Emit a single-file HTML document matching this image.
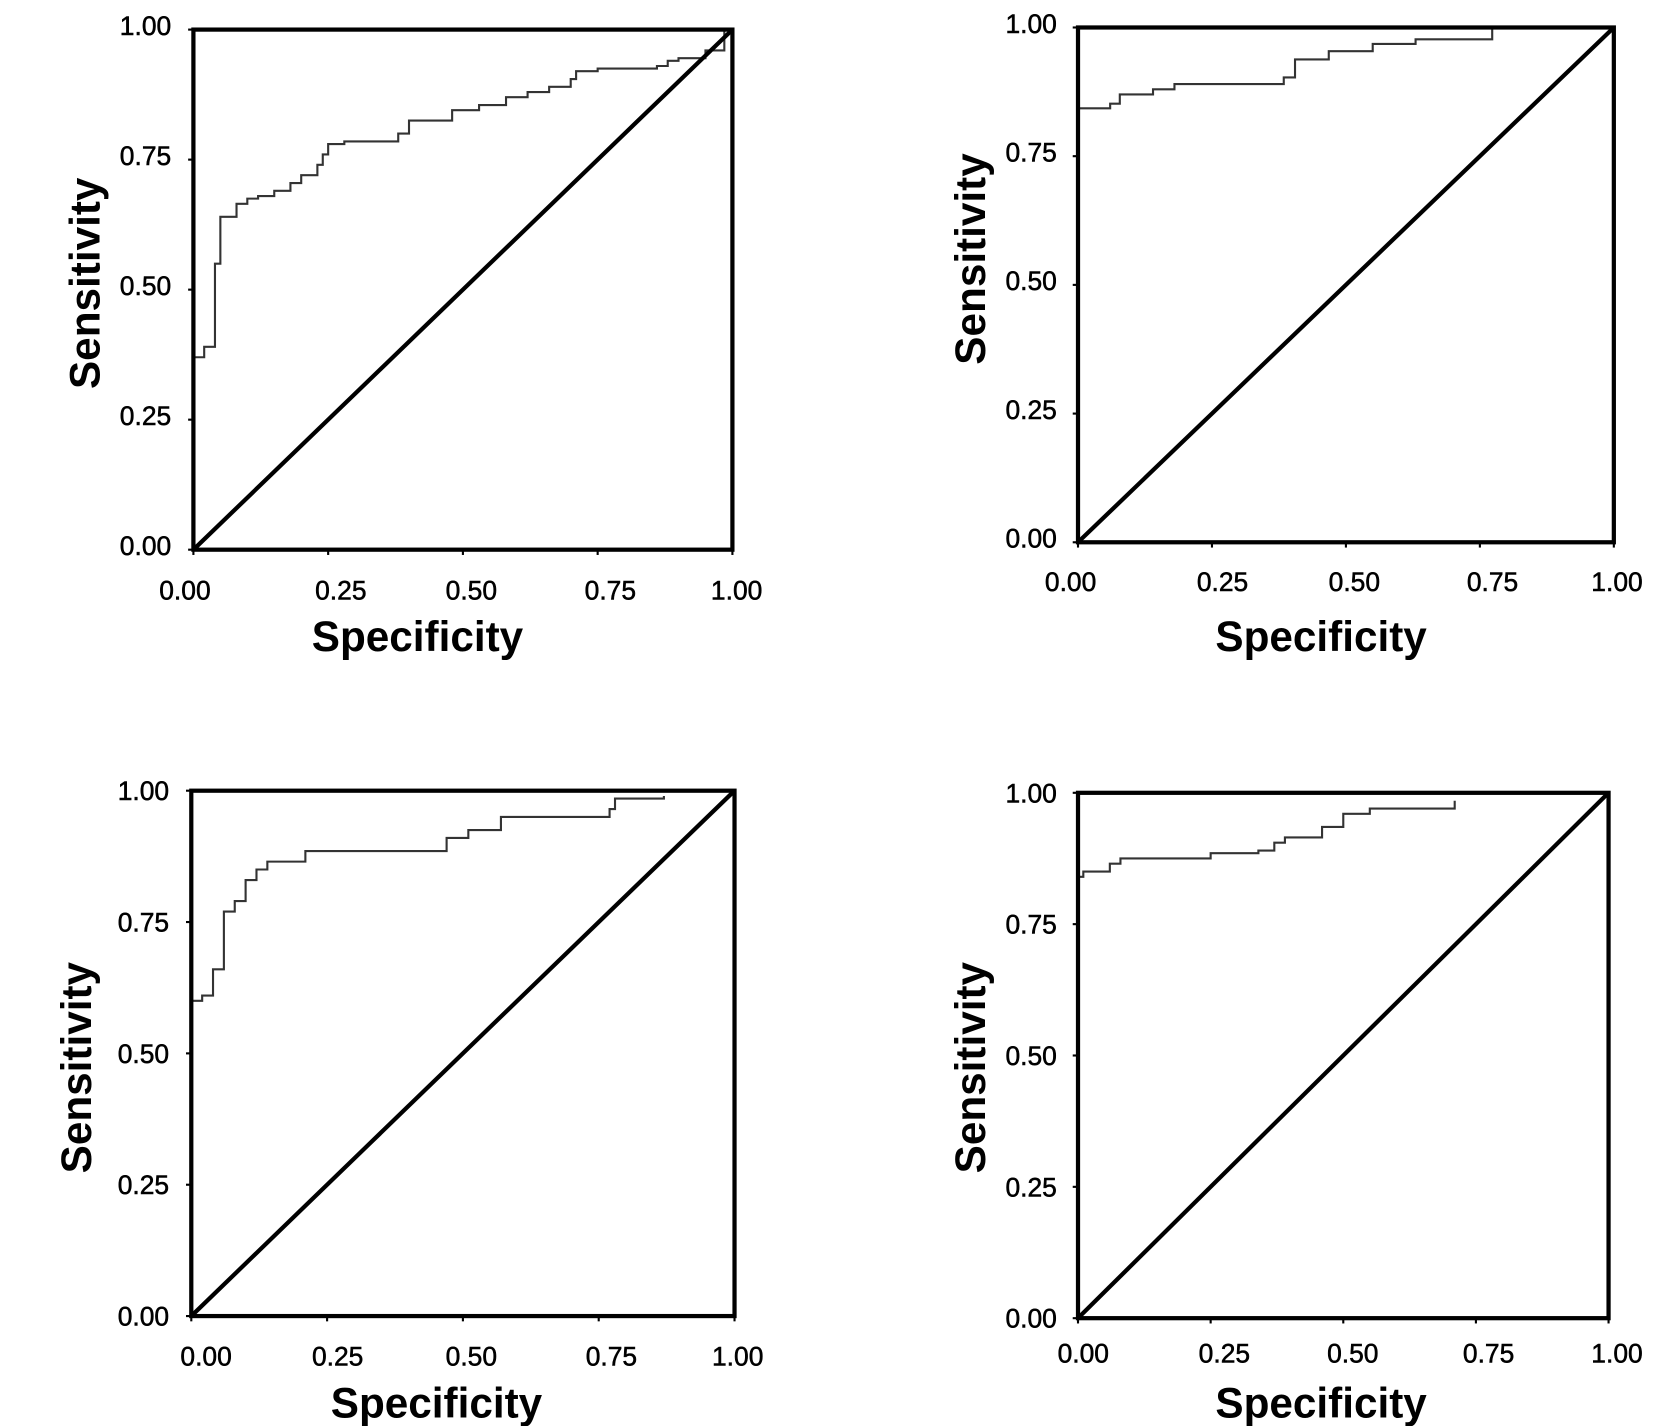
<!DOCTYPE html>
<html><head><meta charset="utf-8"><style>
html,body{margin:0;padding:0;background:#fff}
svg{display:block}
text{font-family:"Liberation Sans",Arial,sans-serif;fill:#000}
.tick{font-size:25px;stroke:#000;stroke-width:0.5}
.title{font-size:40px;font-weight:bold}
</style></head><body>
<svg id="chart" width="1654" height="1426" viewBox="0 0 1565 1349" preserveAspectRatio="none" xmlns="http://www.w3.org/2000/svg"></svg>
<script>
const tickLabels = ["0.00","0.25","0.50","0.75","1.00"];
const tickValues = [0,0.25,0.5,0.75,1];
const p1x = [0,0.02,0.04,0.05,0.08,0.10,0.12,0.15,0.18,0.20,0.23,0.24,0.25,0.28,0.38,0.40,0.48,0.53,0.58,0.62,0.66,0.70,0.71,0.75,0.86,0.88,0.90,0.95,0.985];
const p1y = [0.37,0.39,0.55,0.64,0.665,0.675,0.68,0.69,0.705,0.72,0.74,0.76,0.78,0.785,0.80,0.825,0.845,0.855,0.87,0.88,0.89,0.905,0.92,0.925,0.93,0.94,0.945,0.96,1.0];
const p2x = [0,0.06,0.078,0.14,0.18,0.384,0.405,0.468,0.55,0.63,0.773];
const p2y = [0.843,0.852,0.87,0.88,0.89,0.903,0.938,0.954,0.968,0.977,1.0];
const p3x = [0,0.02,0.04,0.06,0.08,0.10,0.12,0.14,0.21,0.47,0.51,0.57,0.77,0.78,0.87];
const p3y = [0.60,0.61,0.66,0.77,0.79,0.83,0.85,0.865,0.885,0.91,0.925,0.95,0.965,0.985,0.99];
const p4x = [0,0.01,0.06,0.08,0.25,0.34,0.37,0.39,0.46,0.50,0.55,0.71];
const p4y = [0.84,0.85,0.865,0.875,0.885,0.89,0.905,0.915,0.935,0.96,0.97,0.985];

const panels = [
 {name:"top-left",L:183,R:693,T:28,B:520,xs:p1x,ys:p1y,ylabX:162,xlabY:567,ytOff:-4,xtOff:[-8,12,8,12,4],yt:80,ytc:268,xt:395,xty:616},
 {name:"top-right",L:1020,R:1527,T:26,B:513,xs:p2x,ys:p2y,ylabX:1000,xlabY:559,ytOff:-4,xtOff:[-7,10,8,12,3],yt:918,ytc:245,xt:1250,xty:616},
 {name:"bottom-left",L:181,R:695,T:748,B:1245,xs:p3x,ys:p3y,ylabX:160,xlabY:1292,ytOff:0,xtOff:[14,10,8,12,3],yt:72,ytc:1010,xt:413,xty:1341},
 {name:"bottom-right",L:1020,R:1522,T:750,B:1247,xs:p4x,ys:p4y,ylabX:1000,xlabY:1289,ytOff:0,xtOff:[5,13,9,12,8],yt:918,ytc:1010,xt:1250,xty:1341}
];
const svg = document.getElementById('chart');
const NS = "http://www.w3.org/2000/svg";
function mk(tag, attrs, parent){const e=document.createElementNS(NS,tag);for(const k in attrs)e.setAttribute(k,attrs[k]);parent.appendChild(e);return e;}
panels.forEach(p=>{
  const g = mk('g',{},svg);
  
  
  const sx = v => p.L + v*(p.R-p.L);
  const sy = v => p.B - v*(p.B-p.T);
  let d = 'M'+sx(p.xs[0])+','+sy(p.ys[0]);
  for(let i=1;i<p.xs.length;i++){ d += ' H'+sx(p.xs[i])+' V'+sy(p.ys[i]); }
  const c = mk('path',{d:d,fill:'none',stroke:'#333','stroke-width':2},g);
  
  
  const diag = mk('line',{x1:sx(0),y1:sy(0),x2:sx(1),y2:sy(1),stroke:'#000','stroke-width':4},g);
  
  
  const box = mk('rect',{x:p.L,y:p.T,width:p.R-p.L,height:p.B-p.T,fill:'none',stroke:'#000','stroke-width':4},g);
  
  
  tickValues.forEach((v,i)=>{
    const tk = mk('line',{x1:p.L-5,y1:sy(v),x2:p.L,y2:sy(v),stroke:'#000','stroke-width':2},g);
    
    
    const tx = mk('line',{x1:sx(v),y1:p.B,x2:sx(v),y2:p.B+5,stroke:'#000','stroke-width':2},g);
    
    
    const yl = mk('text',{x:p.ylabX,y:sy(v)+9+p.ytOff,'text-anchor':'end',class:'tick'},g);
    yl.textContent = tickLabels[i];
    
    
    const xl = mk('text',{x:sx(v)+p.xtOff[i],y:p.xlabY,'text-anchor':'middle',class:'tick'},g);
    xl.textContent = tickLabels[i];
    
    
  });
  const xt = mk('text',{x:p.xt,y:p.xty,'text-anchor':'middle',class:'title'},g);
  xt.textContent = 'Specificity';
  
  
  const yt = mk('text',{x:0,y:0,'text-anchor':'middle',class:'title',transform:'translate('+(p.yt+14)+','+p.ytc+') rotate(-90)'},g);
  yt.textContent = 'Sensitivity';
  
  
});
</script>
</body></html>
